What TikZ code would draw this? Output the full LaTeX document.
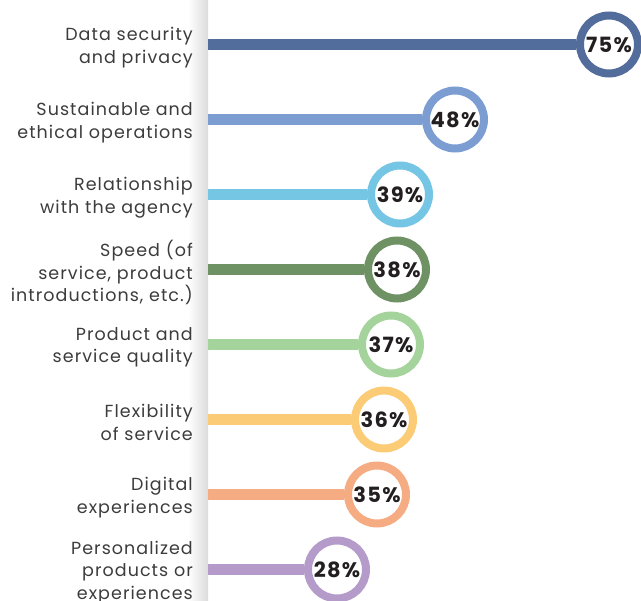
\documentclass[tikz,border=0pt]{standalone}
\usepackage{fontspec}
\setmainfont{Poppins}
\newfontfamily\lblfont[LetterSpace=6]{Poppins}
\newfontfamily\pctfont[LetterSpace=6]{Poppins Bold}
\definecolor{cA}{HTML}{526C9C}
\definecolor{cB}{HTML}{7C9DD2}
\definecolor{cC}{HTML}{74C6E4}
\definecolor{cD}{HTML}{6F9265}
\definecolor{cE}{HTML}{A4D49C}
\definecolor{cF}{HTML}{FBCB75}
\definecolor{cG}{HTML}{F6AC82}
\definecolor{cH}{HTML}{B49BC9}
\definecolor{txtgray}{HTML}{3C3C3C}
\definecolor{pctblack}{HTML}{231F20}
\begin{document}
\begin{tikzpicture}[x=1pt,y=-1pt,
lbl/.style={anchor=east,align=right,inner sep=0pt,text=txtgray,font=\lblfont\fontsize{17.5}{22.5}\selectfont},
ring/.style={circle,draw=#1,line width=8pt,fill=white,minimum size=58pt,inner sep=0pt,
 text=pctblack,font=\pctfont\fontsize{21}{21}\selectfont},
bar/.style={line width=11pt,draw=#1}]
\useasboundingbox (0,0) rectangle (641,601);
\clip (0,0) rectangle (641,601);
\shade[left color=white,right color=black!14] (188,0) rectangle (208,601);
% start points of the bars
\coordinate (s1) at (208,44.5);\coordinate (s2) at (208,119.5);
\coordinate (s3) at (208,194.5);\coordinate (s4) at (208,269.5);
\coordinate (s5) at (208,344.5);\coordinate (s6) at (208,419.5);
\coordinate (s7) at (208,494.5);\coordinate (s8) at (208,569.5);
% rings
\node[ring=cA] (p1) at (609,44.5) {75\%};
\node[ring=cB] (p2) at (455,119.5) {48\%};
\node[ring=cC] (p3) at (400,194.5) {39\%};
\node[ring=cD] (p4) at (397,269.5) {38\%};
\node[ring=cE] (p5) at (391,344.5) {37\%};
\node[ring=cF] (p6) at (384,419.5) {36\%};
\node[ring=cG] (p7) at (377,494.5) {35\%};
\node[ring=cH] (p8) at (337,569.5) {28\%};
\draw[bar=cA](s1)--(p1);\draw[bar=cB](s2)--(p2);
\draw[bar=cC](s3)--(p3);\draw[bar=cD](s4)--(p4);
\draw[bar=cE](s5)--(p5);\draw[bar=cF](s6)--(p6);
\draw[bar=cG](s7)--(p7);\draw[bar=cH](s8)--(p8);
% labels
\node[lbl] (l1) at (193,47.5) {Data security\\and privacy};
\node[lbl] (l2) at (193,122.5) {Sustainable and\\ethical operations};
\node[lbl] (l3) at (193,197.5) {Relationship\\with the agency};
\node[lbl] (l4) at (193,272.5) {Speed (of\\service, product\\introductions, etc.)};
\node[lbl] (l5) at (193,347.5) {Product and\\service quality};
\node[lbl] (l6) at (193,422.5) {Flexibility\\of service};
\node[lbl] (l7) at (193,497.5) {Digital\\experiences};
\node[lbl] (l8) at (193,572.5) {Personalized\\products or\\experiences};
\end{tikzpicture}
\end{document}
